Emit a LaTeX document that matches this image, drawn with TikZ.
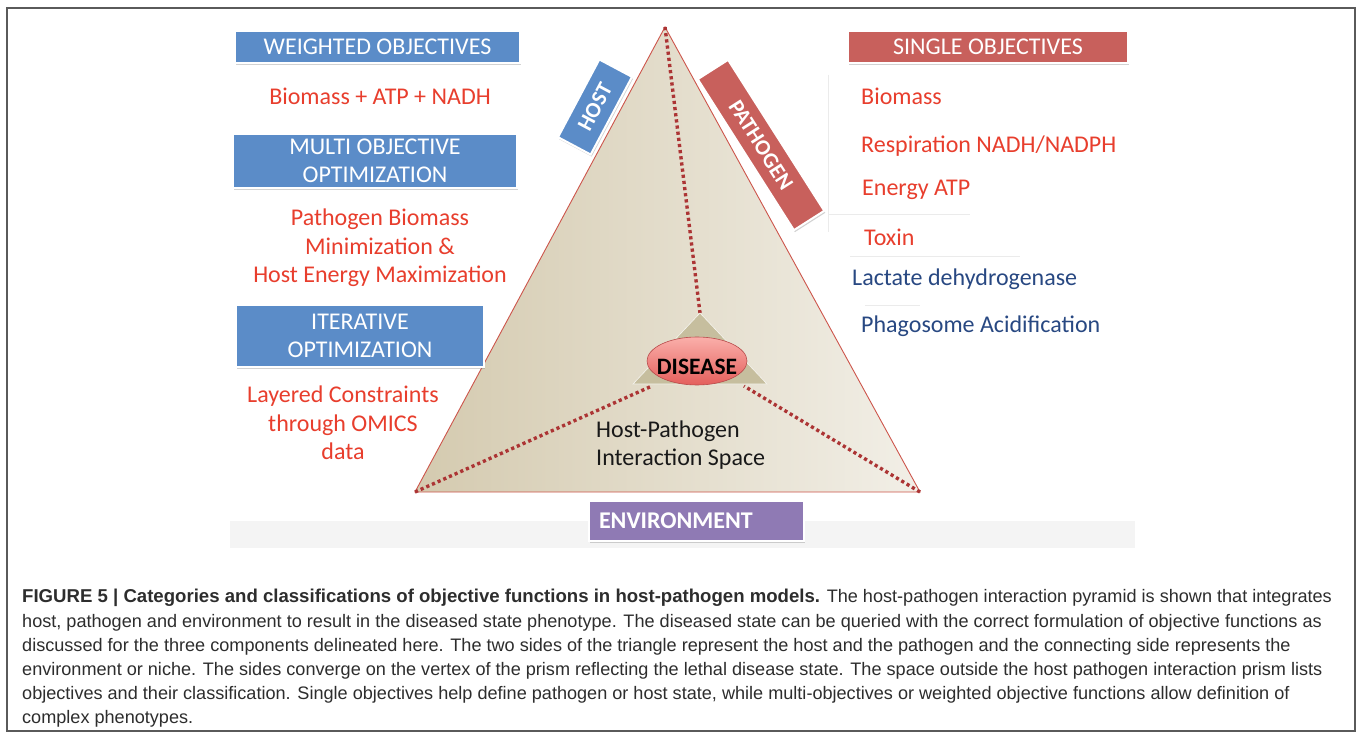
\documentclass[tikz,border=0pt]{standalone}
\usepackage{fontspec}
\setmainfont{Carlito}
\newfontfamily\capfont{Liberation Sans}
\usetikzlibrary{shadows,shapes.geometric}
\definecolor{boxblue}{RGB}{91,140,200}
\definecolor{boxred}{RGB}{200,96,92}
\definecolor{boxpurple}{RGB}{143,122,180}
\definecolor{redtxt}{RGB}{232,62,45}
\definecolor{bluetxt}{RGB}{40,72,130}
\definecolor{dotred}{RGB}{172,52,52}
\definecolor{edgered}{RGB}{205,85,75}
\definecolor{tanL}{RGB}{212,202,175}
\definecolor{tanR}{RGB}{242,239,231}
\definecolor{smalltan}{RGB}{198,190,158}
\definecolor{framegray}{RGB}{90,90,90}
\definecolor{bandgray}{RGB}{244,244,244}
\definecolor{captxt}{RGB}{45,45,45}
\definecolor{faint}{RGB}{235,235,235}
\begin{document}
\begin{tikzpicture}[x=1pt,y=-1pt,
  every node/.style={inner sep=0pt},
  lbl/.style={font=\fontsize{24}{28.5}\selectfont},
  boxstyle/.style={draw=white, line width=2pt, text=white, align=center,
    font=\fontsize{24}{28}\selectfont,
    drop shadow={opacity=0.35, shadow xshift=1pt, shadow yshift=-2pt}},
  redlbl/.style={lbl, text=redtxt, align=center},
  bluelbl/.style={lbl, text=bluetxt},
  dotline/.style={dotred, line width=3.4pt, dash pattern=on 3.2pt off 3pt},
  capline/.style={anchor=base west, text=captxt, font=\capfont\fontsize{18.1}{22}\selectfont}
]
\useasboundingbox (0,0) rectangle (1358,738);
\fill[white] (0,0) rectangle (1358,738);
\draw[framegray, line width=1.5pt] (7,8) rectangle (1355,731);

% light band
\fill[bandgray] (230,521) rectangle (1135,548);

% faint lines on the right
\draw[faint, line width=1pt] (828,75) -- (828,232);
\draw[faint, line width=1pt] (828,215) -- (970,215);
\draw[faint, line width=1pt] (850,257) -- (1020,257);
\draw[faint, line width=1pt] (865,305) -- (920,305);

% main triangle
\coordinate (A) at (665,27);
\coordinate (BL) at (415,492);
\coordinate (BR) at (920,492);
\shade[left color=tanL, right color=tanR] (A) -- (BL) -- (BR) -- cycle;
\draw[edgered, line width=0.9pt] (A) -- (BL) -- (BR) -- cycle;

% small disease triangle
\coordinate (S) at (700,313);
\coordinate (SL) at (633,384);
\coordinate (SR) at (767,384);
\coordinate (SLe) at (652,386);
\coordinate (SRe) at (744,386);

\draw[dotline] (A) -- (S);
\draw[dotline] (BL) -- (SLe);
\draw[dotline] (BR) -- (SRe);

\fill[smalltan, draw=white!85!smalltan, line width=0.6pt] (S) -- (SL) -- (SR) -- cycle;

\node[ellipse, minimum width=100pt, minimum height=48pt, draw=red!60!black!70,
  line width=0.6pt, top color={rgb,255:red,250;green,175;blue,170},
  bottom color={rgb,255:red,228;green,95;blue,92}] (dis) at (697,361) {};
\node[font=\bfseries\fontsize{23.5}{26}\selectfont, text=black] (distext) at (697,367) {DISEASE};

\node[lbl, align=left, anchor=west, text=black!90] (hpis) at (596,445)
  {Host-Pathogen\\Interaction Space};

% boxes left
\node[boxstyle, fill=boxblue, minimum width=285pt, minimum height=32pt] (wo) at (377.5,47) {WEIGHTED OBJECTIVES};
\node[boxstyle, fill=boxblue, minimum width=284pt, minimum height=54pt] (mo) at (375,161) {MULTI OBJECTIVE\\OPTIMIZATION};
\node[boxstyle, fill=boxblue, minimum width=248pt, minimum height=62pt] (io) at (360,336) {ITERATIVE\\OPTIMIZATION};
\node[boxstyle, fill=boxred, minimum width=280pt, minimum height=32pt] (so) at (988,47) {SINGLE OBJECTIVES};

% side labels
\node[boxstyle, fill=boxblue, minimum width=88pt, minimum height=37pt, rotate=62,
  font=\bfseries\fontsize{22}{24}\selectfont] (host) at (595,107) {HOST};
\node[boxstyle, fill=boxred, minimum width=179pt, minimum height=36pt, rotate=-57.5,
  font=\bfseries\fontsize{22}{24}\selectfont] (path) at (761,145) {PATHOGEN};

% environment
\node[boxstyle, fill=boxpurple, anchor=north west, text width=195pt, align=left,
  inner xsep=10pt, minimum height=40pt, font=\bfseries\fontsize{24}{26}\selectfont] (env) at (588,500) {ENVIRONMENT};

% left texts
\node[redlbl] (w1) at (380,96) {Biomass + ATP + NADH};
\node[redlbl] (m1) at (380,248) {Pathogen Biomass\\Minimization \&\\Host Energy Maximization};
\node[redlbl] (l1) at (343,423) {Layered Constraints\\through OMICS\\data};

% right texts
\node[lbl, text=redtxt, anchor=west] (r1) at (861,96) {Biomass};
\node[lbl, text=redtxt, anchor=west] (r2) at (861,146) {Respiration NADH/NADPH};
\node[lbl, text=redtxt, anchor=west] (r3) at (862,190) {Energy ATP};
\node[lbl, text=redtxt, anchor=west] (r4) at (864,237) {Toxin};
\node[bluelbl, anchor=west] (r5) at (852,279) {Lactate dehydrogenase};
\node[bluelbl, anchor=west] (r6) at (861,326) {Phagosome Acidification};

% caption
\node[capline] (c1) at (22,602) {{\bfseries\fontsize{18.6}{22}\selectfont FIGURE 5 | Categories and classifications of objective functions in host-pathogen models.} The host-pathogen interaction pyramid is shown that integrates};
\node[capline] (c2) at (22,627) {host, pathogen and environment to result in the diseased state phenotype. The diseased state can be queried with the correct formulation of objective functions as};
\node[capline] (c3) at (22,651) {discussed for the three components delineated here. The two sides of the triangle represent the host and the pathogen and the connecting side represents the};
\node[capline] (c4) at (22,675) {environment or niche. The sides converge on the vertex of the prism reflecting the lethal disease state. The space outside the host pathogen interaction prism lists};
\node[capline] (c5) at (22,699) {objectives and their classification. Single objectives help define pathogen or host state, while multi-objectives or weighted objective functions allow definition of};
\node[capline] (c6) at (22,723) {complex phenotypes.};
\end{tikzpicture}
\end{document}
